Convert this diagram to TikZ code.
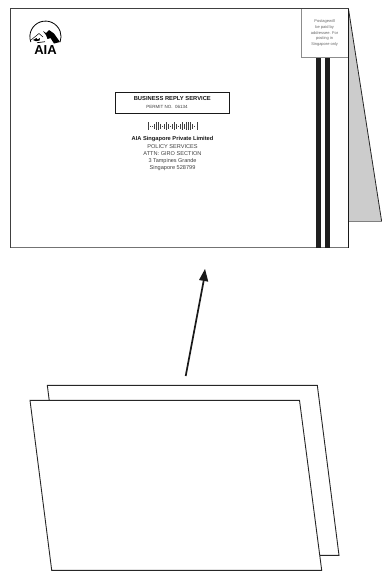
\documentclass[tikz,border=0pt]{standalone}
\usepackage{fontspec}
\setmainfont{Liberation Sans}
\tikzset{
 sheet/.style={draw=black!85,line width=0.9pt,fill=white,line join=miter},
 txt/.style={inner sep=0pt,text=black!75,align=center},
 btxt/.style={inner sep=0pt,text=black!90,align=center},
 stamp/.style={inner sep=0pt,text=black!60,font=\fontsize{4}{5.7}\selectfont,align=center},
 stripe/.style={fill=black!88,draw=none},
 bar/.style={line width=0.5pt,draw=black!75},
}
\begin{document}
\begin{tikzpicture}[x=1pt,y=-1pt]
\useasboundingbox (0,0) rectangle (382,573);
% back flap
\path[fill=black!20] (348.5,9) -- (381.7,221.7) -- (348.5,221.7) -- cycle;
\draw[black!85,line width=0.8pt] (348.5,9) -- (381.7,221.7);
\draw[black!50,line width=0.8pt] (348.5,221.7) -- (381.7,221.7);
% envelope
\path[fill=white] (10.5,8.5) rectangle (348.5,248);
\draw[black!55,line width=0.9pt] (348.5,247.7) -- (10.5,247.7);
\draw[black!75,line width=0.9pt] (10.5,247.7) -- (10.5,8.5) -- (348.5,8.5);
\draw[black!90,line width=0.8pt] (348.5,8.5) -- (348.5,248);
% stripes
\fill[stripe] (316,57.5) rectangle (321,248);
\fill[stripe] (325,57.5) rectangle (330,248);
% stamp box
\draw[black!45,line width=0.4pt] (301.3,8.8) -- (301.3,57.5) -- (348.1,57.5);
\node[stamp] (stamptext) at (324.6,33) {Postagewill\\be paid by\\addressee. For\\posting in\\Singapore only};
% logo
\draw[black,line width=0.8pt] (30.8,42) arc[start angle=160,end angle=380,radius=15.6];
\draw[black,line width=0.5pt] (31,40) -- (39,33.5) -- (43,37);
\fill[black] (33,40) -- (36.5,38) -- (37.5,39.5) -- (40,38) -- (39.5,40.5) -- (36,41.2) -- cycle;
\fill[black] (43,31) -- (46,33) -- (49,30) -- (54,33.5) -- (60,42) -- (54,43.5) -- (50.5,38) -- (47.5,39) -- (46,35) -- cycle;
\draw[black,line width=0.7pt] (37,42.7) -- (45,41.7);
\node[inner sep=0pt,font=\fontsize{13}{13}\selectfont\bfseries] (logotext) at (45.5,50.3) {AIA};
% reply box
\node[draw=black!90,line width=0.7pt,minimum width=114pt,minimum height=21pt,inner sep=0pt] (replybox) at (172.3,102.8) {};
\node[btxt,font=\fontsize{5.8}{6}\selectfont\bfseries] (replytitle) at (172.3,98.2) {BUSINESS REPLY SERVICE};
\node[txt,font=\fontsize{4.5}{6}\selectfont] (permit) at (167,106.7) {PERMIT NO.\ \ 06134};
% barcode
\foreach \bx/\bh in {148.3/8,150.5/1.5,152.5/1.5,154.5/5,156.3/8,158.3/8,160.3/5,162.3/1.5,164.3/5,166.3/8,168.3/5,170.3/1.5,172.3/5,174.3/8,176.3/5,178.3/1.5,180.3/5,182.3/8,184.3/5,186.5/8,188.5/8,190.5/8,192.3/5,194.3/1.5,197/8}{
 \draw[bar] (\bx,126.3-\bh/2) -- ++(0,\bh);}
% address
\node[btxt,font=\fontsize{5.7}{6}\selectfont\bfseries] (a1) at (172.5,139.4) {AIA Singapore Private Limited};
\node[txt,font=\fontsize{5.6}{6}\selectfont] (a2) at (172.5,146.7) {POLICY SERVICES};
\node[txt,font=\fontsize{5.6}{6}\selectfont] (a3) at (172.5,154) {ATTN: GIRO SECTION};
\node[txt,font=\fontsize{5.5}{6}\selectfont] (a4) at (172.5,161) {3 Tampines Grande};
\node[txt,font=\fontsize{5.6}{6}\selectfont] (a5) at (172.5,167.7) {Singapore 528799};
% arrow
\coordinate (arrowstart) at (185.7,376);
\coordinate (arrowbase) at (204,279);
\draw[black!90,line width=1.7pt] (arrowstart) -- (arrowbase);
\fill[black!90] (205,269) -- (208.3,281.7) -- (199,280) -- cycle;
% back sheet
\draw[sheet] (47.3,385.3) -- (317.3,385.3) -- (339,555.3) -- (69,555.3) -- cycle;
% front sheet
\draw[sheet] (30,400.3) -- (299.5,400.3) -- (321.7,570.3) -- (51.7,570.3) -- cycle;
\end{tikzpicture}
\end{document}
